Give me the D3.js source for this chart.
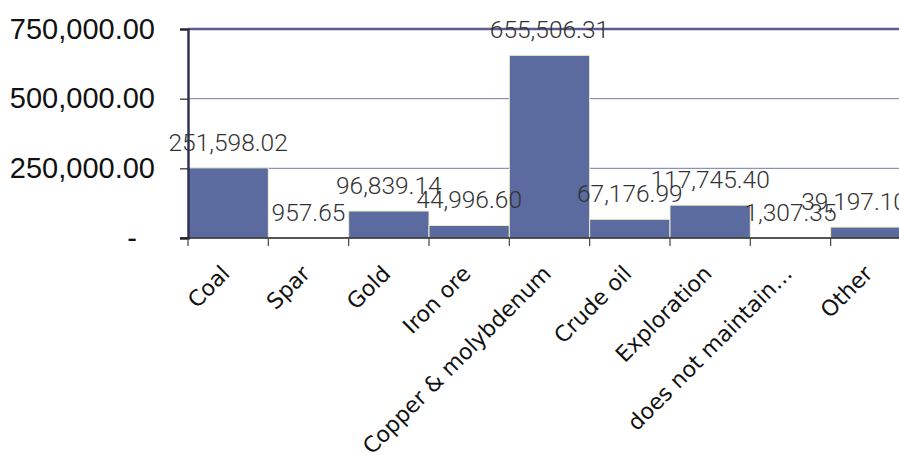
<!DOCTYPE html>
<html><head><meta charset="utf-8">
<script src="https://cdn.jsdelivr.net/npm/d3@7"></script>
<style>body{margin:0;background:#fff;} svg{display:block;}</style>
</head><body>
<svg id="c" width="899" height="459"></svg>
<script>
const categories = ["Coal","Spar","Gold","Iron ore","Copper & molybdenum","Crude oil","Exploration","does not maintain…","Other"];
const values = [251598.02, 957.65, 96839.14, 44996.60, 655506.31, 67176.99, 117745.40, 1307.35, 39197.10];
const yTicks = [0, 250000, 500000, 750000];

const svg = d3.select("#c");
const plotLeft = 188, plotTop = 29, plotBottom = 238, bandW = 80.33;
const plotRight = plotLeft + bandW*categories.length;
const x = d3.scaleBand().domain(categories).range([plotLeft, plotRight]).padding(0);
const y = d3.scaleLinear().domain([0, 750000]).range([plotBottom, plotTop]);

// gridlines
svg.append("g").selectAll("line").data(yTicks.filter(d=>d>0)).join("line")
  .attr("x1", plotLeft).attr("x2", 899).attr("y1", d=>y(d)).attr("y2", d=>y(d))
  .attr("stroke", d=> d===750000 ? "#5c5c8f" : "#7a7ab0")
  .attr("stroke-width", d=> d===750000 ? 2.5 : 1);

// bars
svg.append("g").selectAll("rect").data(values).join("rect")
  .attr("x", (d,i)=>x(categories[i])).attr("width", x.bandwidth())
  .attr("y", d=>y(d)).attr("height", d=>plotBottom - y(d))
  .attr("fill", "#5b6b9f").attr("stroke", "#eeeecc").attr("stroke-width", 1);

// y axis
const yAxis = d3.axisLeft(y).tickValues(yTicks).tickSize(8).tickPadding(25)
  .tickFormat(d => d===0 ? "-" : d3.format(",.2f")(d));
const ya = svg.append("g").attr("transform", `translate(${plotLeft},0)`).call(yAxis);
ya.select(".domain").attr("stroke", "#333355").attr("stroke-width", 2.5);
ya.selectAll(".tick line").attr("stroke", "#222").attr("stroke-width", 1.2);
ya.selectAll(".tick text").attr("font-family", "Liberation Sans, Arial, sans-serif")
  .attr("font-size", 29).attr("fill", "#111")
  .attr("dx", d => d===0 ? -18 : 0);

// x axis
const xAxis = d3.axisBottom(x).tickSize(0).tickFormat(d=>d);
const xa = svg.append("g").attr("transform", `translate(0,${plotBottom})`).call(xAxis);
xa.select(".domain").remove();
svg.append("line").attr("x1", 180).attr("x2", 899).attr("y1", plotBottom).attr("y2", plotBottom)
  .attr("stroke", "#222").attr("stroke-width", 1.5);
svg.append("g").selectAll("line").data(categories).join("line")
  .attr("x1", d=>x(d)).attr("x2", d=>x(d)).attr("y1", plotBottom).attr("y2", plotBottom+8)
  .attr("stroke", "#444").attr("stroke-width", 1.2);
xa.selectAll(".tick text")
  .attr("font-family", "DejaVu Sans, Verdana, sans-serif").attr("font-size", 22).attr("fill", "#111")
  .attr("text-anchor", "end").attr("dy", 0).attr("y", 0)
  .attr("transform", "translate(3,37) rotate(-45)");

// value labels
svg.append("g").selectAll("text").data(values).join("text")
  .attr("x", (d,i)=>x(categories[i]) + x.bandwidth()/2)
  .attr("y", d=>y(d) - 17)
  .attr("text-anchor", "middle")
  .attr("font-family", "Roboto, sans-serif").attr("font-weight", 300)
  .attr("font-size", 24.5).attr("fill", "#333")
  .text(d=>d3.format(",.2f")(d))
  .each(function(d,i){
    const w = this.getComputedTextLength();
    const cx = x(categories[i]) + x.bandwidth()/2;
    if (cx + w/2 > plotRight - 4) d3.select(this).attr("x", plotRight - 4 - w/2);
  });
</script>
</body></html>
